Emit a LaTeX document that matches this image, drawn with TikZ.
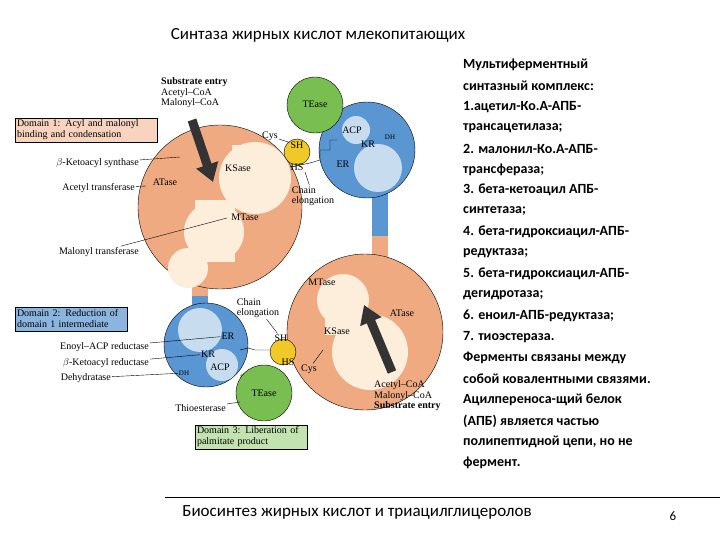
\documentclass[tikz,border=0pt]{standalone}
\usepackage{fontspec}
\setmainfont{Liberation Serif}
\newfontfamily\ru{Carlito}
\usetikzlibrary{arrows.meta}
\definecolor{peach}{RGB}{240,170,130}
\definecolor{cream}{RGB}{253,238,220}
\definecolor{bluedom}{RGB}{90,150,210}
\definecolor{lightblue}{RGB}{200,220,240}
\definecolor{greendom}{RGB}{120,190,80}
\definecolor{yel}{RGB}{240,200,40}
\tikzset{
  lbl/.style={font=\fontsize{10}{10.5}\selectfont, inner sep=1pt},
  box/.style={draw, font=\fontsize{10}{11}\selectfont, align=left, inner sep=2pt, minimum height=24pt},
  lead/.style={thin},
  ruline/.style={font=\ru\bfseries\fontsize{14}{14}\selectfont, anchor=west, inner sep=0pt}
}
\begin{document}
\begin{tikzpicture}[x=1pt,y=-1pt]
\useasboundingbox (0,0) rectangle (720,540);
% Title
\node[font=\ru\fontsize{17}{17}\selectfont] (title) at (318,35) {Синтаза жирных кислот млекопитающих};

% Necks
\fill[bluedom] (372,185) rectangle (388,240);
\fill[peach] (372,236) rectangle (388,258);
\fill[peach] (192,280) rectangle (208,300);
\fill[bluedom] (192,296) rectangle (208,312);
\fill[greendom] (330,112) -- (350,125) -- (340,132) -- (322,120) -- cycle;
\fill[greendom] (240,375) -- (255,368) -- (262,380) -- (246,388) -- cycle;

% Upper left orange domain
\draw[fill=peach] (220,207) circle [radius=82];
\fill[cream] (255,178) circle [radius=36];
\fill[cream] (232,145) rectangle (268,175);
\fill[cream] (214,232) circle [radius=30];
\fill[cream] (188,268) circle [radius=20];
\fill[cream] (195,200) rectangle (235,262);
% Upper right blue domain
\draw[fill=bluedom] (367,150) circle [radius=48];
\fill[lightblue] (356,130) circle [radius=14];
\fill[lightblue] (378,168) circle [radius=24];
% Top TEase
\draw[fill=greendom] (315,105) circle [radius=28];
% Upper SH
\draw[fill=yel] (297,152) circle [radius=13];

% Lower right orange domain
\draw[fill=peach] (365,332) circle [radius=78];
\fill[cream] (343,300) circle [radius=26];
\fill[cream] (370,352) circle [radius=38];
\fill[cream] (325,305) rectangle (365,335);
% Lower left blue domain
\draw[fill=bluedom] (206,345) circle [radius=42];
\fill[lightblue] (200,330) circle [radius=22];
\fill[lightblue] (222,365) circle [radius=16];
% Lower TEase
\draw[fill=greendom] (264,393) circle [radius=28];
% Lower SH
\draw[fill=yel] (283,352) circle [radius=13];

% Substrate arrows
\draw[line width=9pt, -{Triangle[width=22pt,length=18pt]}, black!80] (192,120) -- (213,182);
\draw[line width=9pt, -{Triangle[width=22pt,length=18pt]}, black!80] (392,372) -- (364,305);

% Flexible arms
\draw (290,167) -- (310,163) -- (320,160) -- (320,150) -- (330,150) -- (330,140) -- (337,140);
\draw (270,350) -- (255,350) -- (248,348) -- (240,350);

% Domain boxes
\node[box, fill=peach!50, text width=138pt] (d1) at (86,130) {Domain 1: Acyl and malonyl\\binding and condensation};
\node[box, fill=bluedom!70, text width=108pt] (d2) at (71,319) {Domain 2: Reduction of\\domain 1 intermediate};
\node[box, fill=greendom!45, text width=108pt] (d3) at (251,437) {Domain 3: Liberation of\\palmitate product};

% Upper labels
\node[lbl, anchor=west, align=left] (sub1) at (160,93) {\textbf{Substrate entry}\\Acetyl--CoA\\Malonyl--CoA};
\node[lbl, anchor=east] (bks) at (140,163) {$\beta$-Ketoacyl synthase};
\node[lbl, anchor=east] (acty) at (136,188) {Acetyl transferase};
\node[lbl, anchor=east] (maly) at (140,252) {Malonyl transferase};
\node[lbl] (atase1) at (165,182) {ATase};
\node[lbl] (ksase1) at (238,168) {KSase};
\node[lbl] (mtase1) at (245,217) {MTase};
\node[lbl] (cys1) at (270,136) {Cys};
\node[lbl] (sh1) at (297,145) {SH};
\node[lbl] (hs1) at (297,167) {HS};
\node[lbl, align=left] (chain1) at (313,196) {Chain\\elongation};
\node[lbl] (acp1) at (352,130) {ACP};
\node[lbl] (kr1) at (368,144) {KR};
\node[lbl, font=\fontsize{7}{8}\selectfont] (dh1) at (390,137) {DH};
\node[lbl] (er1) at (343,164) {ER};
\node[lbl] (te1) at (315,104) {TEase};
\coordinate (pks) at (180,157);
\coordinate (pat) at (146,186);
\coordinate (pmt) at (227,218);
\coordinate (pch) at (305,172);
\draw[lead] (bks) -- (pks);
\draw[lead] (acty) -- (pat);
\draw[lead] (maly) -- (pmt);
\draw[lead] (cys1) -- (sh1);
\draw[lead] (chain1) -- (pch);

% Lower labels
\node[lbl] (mtase2) at (322,282) {MTase};
\node[lbl] (atase2) at (402,313) {ATase};
\node[lbl] (ksase2) at (337,331) {KSase};
\node[lbl, align=left] (chain2) at (258,308) {Chain\\elongation};
\node[lbl] (sh2) at (281,338) {SH};
\node[lbl] (hs2) at (288,362) {HS};
\node[lbl] (cys2) at (309,369) {Cys};
\node[lbl] (er2) at (228,336) {ER};
\node[lbl] (kr2) at (208,354) {KR};
\node[lbl] (acp2) at (220,367) {ACP};
\node[lbl, font=\fontsize{7}{8}\selectfont] (dh2) at (184,373) {DH};
\node[lbl] (te2) at (264,393) {TEase};
\node[lbl, anchor=east] (enoyl) at (150,347) {Enoyl--ACP reductase};
\node[lbl, anchor=east] (bkr) at (150,363) {$\beta$-Ketoacyl reductase};
\node[lbl, anchor=east] (dehy) at (112,378) {Dehydratase};
\node[lbl, anchor=east] (thio) at (227,408) {Thioesterase};
\node[lbl, anchor=west, align=left] (sub2) at (373,396) {Acetyl--CoA\\Malonyl--CoA\\\textbf{Substrate entry}};
\coordinate (pcy) at (323,350);
\draw[lead] (enoyl) -- (er2);
\draw[lead] (bkr) -- (kr2);
\draw[lead] (dehy) -- (dh2);
\draw[lead] (thio) -- (240,402);
\draw[lead] (chain2) -- (sh2);
\draw[lead] (cys2) -- (pcy);

% Right text
\node[ruline] (t1) at (463,65) {Мультиферментный};
\node[ruline] (t2) at (463,86) {синтазный комплекс:};
\node[ruline] (t3) at (463,107) {1.ацетил-Ко.А-АПБ-};
\node[ruline] (t4) at (463,128) {трансацетилаза;};
\node[ruline] (t5) at (463,149) {2. малонил-Ко.А-АПБ-};
\node[ruline] (t6) at (463,170) {трансфераза;};
\node[ruline] (t7) at (463,190) {3. бета-кетоацил АПБ-};
\node[ruline] (t8) at (463,211) {синтетаза;};
\node[ruline] (t9) at (463,232) {4. бета-гидроксиацил-АПБ-};
\node[ruline] (t10) at (463,253) {редуктаза;};
\node[ruline] (t11) at (463,274) {5. бета-гидроксиацил-АПБ-};
\node[ruline] (t12) at (463,295) {дегидротаза;};
\node[ruline] (t13) at (463,316) {6. еноил-АПБ-редуктаза;};
\node[ruline] (t14) at (463,337) {7. тиоэстераза.};
\node[ruline] (t15) at (463,358) {Ферменты связаны между};
\node[ruline] (t16) at (463,379) {собой ковалентными связями.};
\node[ruline] (t17) at (463,400) {Ацилпереноса-щий белок};
\node[ruline] (t18) at (463,421) {(АПБ) является частью};
\node[ruline] (t19) at (463,442) {полипептидной цепи, но не};
\node[ruline] (t20) at (463,463) {фермент.};

% Footer
\draw (165,497) -- (720,497);
\node[font=\ru\fontsize{17}{17}\selectfont] (foot) at (357,512) {Биосинтез жирных кислот и триацилглицеролов};
\node[font=\ru\fontsize{13}{13}\selectfont] (page) at (673,516) {6};
\end{tikzpicture}
\end{document}
